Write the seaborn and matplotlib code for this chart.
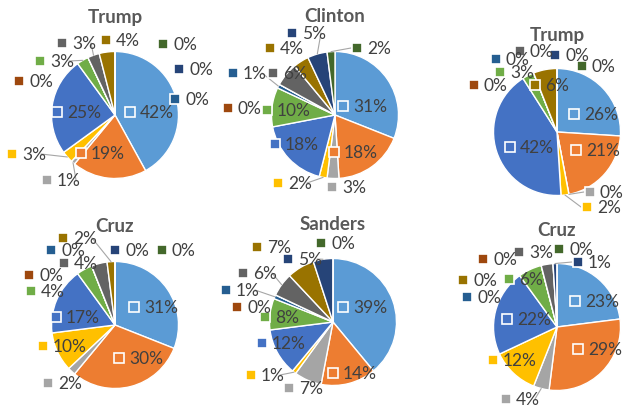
import numpy as np
import matplotlib
matplotlib.use("Agg")
import matplotlib.pyplot as plt
from matplotlib.patches import Rectangle
import seaborn as sns

# ---------------- data ----------------
titles = ["Trump", "Clinton", "Trump", "Cruz", "Sanders", "Cruz"]
trump_a = [42, 19, 1, 3, 25, 3, 0, 0, 3, 4, 0, 0]
clinton = [31, 18, 3, 2, 18, 10, 1, 0, 6, 4, 5, 2]
trump_b = [26, 21, 0, 2, 42, 3, 0, 0, 0, 6, 0, 0]
cruz_a = [31, 30, 2, 10, 17, 4, 0, 0, 4, 2, 0, 0]
sanders = [39, 14, 7, 1, 12, 8, 1, 0, 6, 7, 5, 0]
cruz_b = [23, 29, 4, 12, 22, 6, 0, 0, 3, 0, 1, 0]
series = [trump_a, clinton, trump_b, cruz_a, sanders, cruz_b]

palette = ["#5B9BD5", "#ED7D31", "#A5A5A5", "#FFC000", "#4472C4", "#70AD47",
           "#255E91", "#9E480E", "#636363", "#997300", "#264478", "#43682B"]

# ---------------- layout (pixels, y down) ----------------
W, H = 625, 408
centers = [(115, 115), (335, 115), (557, 132), (115, 325), (333, 322), (557, 327)]
radius = 63.5
title_pos = [(115, 17), (335, 17), (557, 35), (115, 227), (333, 225), (557, 230)]

label_pos = [
    [(130, 112), (81, 153), (47, 180), (12, 154), (57, 112), (40, 61),
     (175, 99), (19, 81), (62, 43), (106, 40), (179, 69), (163, 44)],
    [(343, 106), (334, 152), (332, 187), (278, 183), (275, 144), (267, 110),
     (233, 73), (228, 108), (273, 73), (270, 48), (292, 33), (357, 48)],
    [(574, 114), (576, 150), (590, 192), (587, 207), (510, 147), (500, 72),
     (496, 59), (474, 85), (520, 51), (535, 85), (555, 55), (582, 66)],
    [(134, 307), (119, 358), (48, 383), (43, 346), (56, 317), (31, 291),
     (51, 250), (29, 275), (64, 263), (63, 238), (115, 250), (162, 250)],
    [(343, 307), (333, 373), (289, 388), (251, 375), (262, 343), (265, 317),
     (226, 290), (237, 307), (243, 273), (257, 247), (288, 259), (321, 243)],
    [(575, 301), (578, 349), (506, 399), (493, 360), (507, 319), (509, 279),
     (467, 297), (483, 259), (519, 252), (463, 280), (578, 262), (559, 249)],
]
leaders = [
    [2, 3, 5, 8],
    [3, 6, 10, 11],
    [2, 3],
    [9],
    [3, 6, 8, 10],
    [2, 10],
]

sns.set_theme(style="white")
plt.rcParams["font.family"] = ["Lato", "DejaVu Sans"]

fig = plt.figure(figsize=(W / 100, H / 100), dpi=100)
ax = fig.add_axes([0, 0, 1, 1])

text_color = "#404040"
fs = 12.5
msz = 9.5

for k, vals in enumerate(series):
    cx, cy = centers[k]
    Y = H - cy
    ax.pie(vals, colors=palette, startangle=90, counterclock=False,
           center=(cx, Y), radius=radius,
           wedgeprops=dict(edgecolor="white", linewidth=1.0))
    tx, ty = title_pos[k]
    ax.text(tx, H - ty, titles[k], ha="center", va="center", fontsize=13.5,
            fontweight="bold", color="#595959")
    total = float(sum(vals))
    cum = np.cumsum([0] + list(vals))
    for i, v in enumerate(vals):
        mx, my = label_pos[k][i]
        txt = f"{v}%"
        if i in leaders[k]:
            a = (cum[i] + v / 2.0) / total * 2 * np.pi
            px = cx + radius * np.sin(a)
            py = Y + radius * np.cos(a)
            if mx > cx:
                sx = mx - 6
            else:
                sx = mx + 11 + 9.0 * len(txt)
            ax.plot([sx, px], [H - my, py], color="#A6A6A6", lw=0.8, zorder=3)
        ax.add_patch(Rectangle((mx - msz / 2, H - my - msz / 2), msz, msz,
                               facecolor=palette[i], edgecolor="white",
                               linewidth=1.2, zorder=5))
        ax.text(mx + 10, H - my - 6.2, txt, ha="left", va="baseline",
                fontsize=fs, color=text_color, zorder=6)

ax.set_xlim(0, W)
ax.set_ylim(0, H)
ax.set_aspect("equal")
ax.axis("off")
fig.savefig("out.png", dpi=100, facecolor="white")
